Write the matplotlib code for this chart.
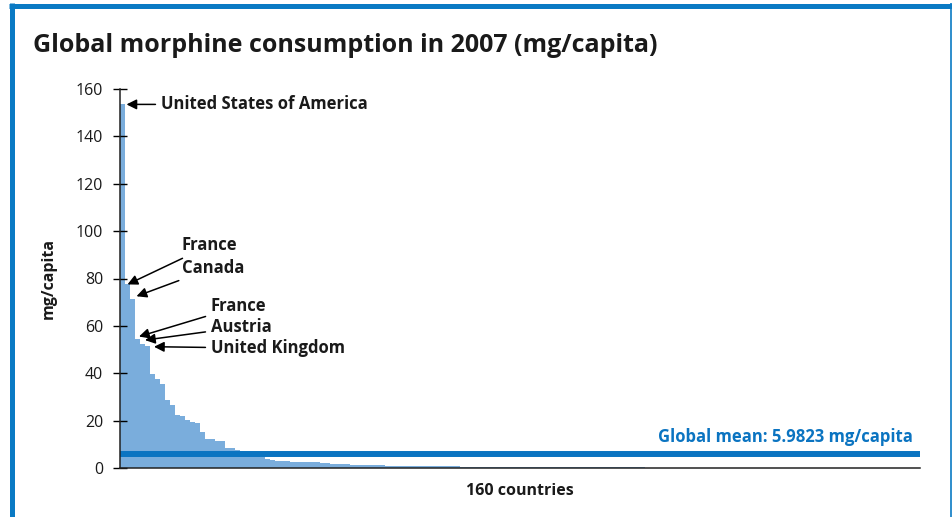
import numpy as np
import matplotlib
matplotlib.use('Agg')
from matplotlib import pyplot as plt
from matplotlib.lines import Line2D

# morphine consumption per country, sorted descending (mg/capita), 160 countries
top_values = [153.5, 77.5, 71.5, 54.5, 52.5, 51.5, 39.5, 37.5, 35.5, 28.8,
              26.7, 22.4, 21.8, 20.3, 19.6, 18.8, 15.0, 12.4, 12.4, 11.4,
              11.4, 8.6, 8.6, 7.6, 6.8, 6.2, 5.6, 5.0, 4.5, 3.9,
              3.4, 3.0, 3.0, 3.0]
mid_values = [2.4] * 6 + [2.0] * 2 + [1.6] * 4 + [1.2] * 7 + [0.9] * 6 + [0.65] * 9
low_values = [0.35] * 37
zero_values = [0.02] * 55
values = top_values + mid_values + low_values + zero_values
global_mean = 5.9823

# annotations: (label, bar index of target, value of target, text x, text y)
annotations = [
    ('United States of America', 1.3, 153.5, 8.2, 153.5),
    ('France', 1.5, 77.5, 12.4, 94.0),
    ('Canada', 3.3, 72.5, 12.4, 84.5),
    ('France', 3.8, 55.5, 18.2, 68.2),
    ('Austria', 5.0, 54.0, 18.2, 59.5),
    ('United Kingdom', 6.8, 51.2, 18.2, 50.5),
]

BAR_COLOR = '#7aaddc'
MEAN_COLOR = '#0b74c1'
FRAME_COLOR = '#0a7ac4'
TEXT_COLOR = '#1a1a1a'

plt.rcParams['font.family'] = ['Open Sans', 'DejaVu Sans']

fig = plt.figure(figsize=(9.53, 5.17), dpi=100)
ax = fig.add_axes([120 / 953, 1 - 468 / 517, 800 / 953, 379 / 517])

x = np.arange(len(values))
ax.bar(x, values, width=1.0, align='edge', color=BAR_COLOR, linewidth=0)
ax.axhline(global_mean, color=MEAN_COLOR, lw=4.3, xmin=0, xmax=0.998)

ax.set_xlim(0, len(values))
ax.set_ylim(0, 160)
ax.set_yticks(np.arange(0, 161, 20))
ax.set_xticks([])
ax.tick_params(axis='y', direction='inout', length=10, width=1.0,
               pad=7, labelsize=11.5, labelcolor=TEXT_COLOR)
for side in ['top', 'right']:
    ax.spines[side].set_visible(False)
for side in ['left', 'bottom']:
    ax.spines[side].set_linewidth(1.1)
    ax.spines[side].set_color('#222222')

ax.set_ylabel('mg/capita', fontsize=11.5, fontweight='bold', color=TEXT_COLOR,
              labelpad=14)
ax.set_xlabel('160 countries', fontsize=11.5, fontweight='bold',
              color=TEXT_COLOR, labelpad=11)

for label, tx, ty, lx, ly in annotations:
    ax.annotate(label, xy=(tx, ty), xytext=(lx, ly),
                fontsize=12, fontweight='bold', color=TEXT_COLOR,
                ha='left', va='center',
                arrowprops=dict(arrowstyle='-|>', color='black', lw=1.1,
                                mutation_scale=15, shrinkA=2, shrinkB=0))

ax.text(158.5, global_mean + 3.3, 'Global mean: %.4f mg/capita' % global_mean,
        color=MEAN_COLOR, fontsize=12, fontweight='bold',
        ha='right', va='bottom')

fig.text(33 / 953, 1 - 45 / 517, 'Global morphine consumption in 2007 (mg/capita)',
         fontsize=18, fontweight='bold', color=TEXT_COLOR,
         ha='left', va='center')

# blue frame around the figure box
fig.add_artist(Line2D([9 / 953, 1.0], [1 - 5.5 / 517] * 2,
                      transform=fig.transFigure, color=FRAME_COLOR, lw=3.6,
                      solid_capstyle='butt'))
fig.add_artist(Line2D([12 / 953] * 2, [0.0, 1 - 3 / 517],
                      transform=fig.transFigure, color=FRAME_COLOR, lw=3.6,
                      solid_capstyle='butt'))
fig.add_artist(Line2D([951.5 / 953] * 2, [0.0, 1 - 3 / 517],
                      transform=fig.transFigure, color=FRAME_COLOR, lw=1.2,
                      solid_capstyle='butt'))

fig.savefig('out.png', dpi=100)
